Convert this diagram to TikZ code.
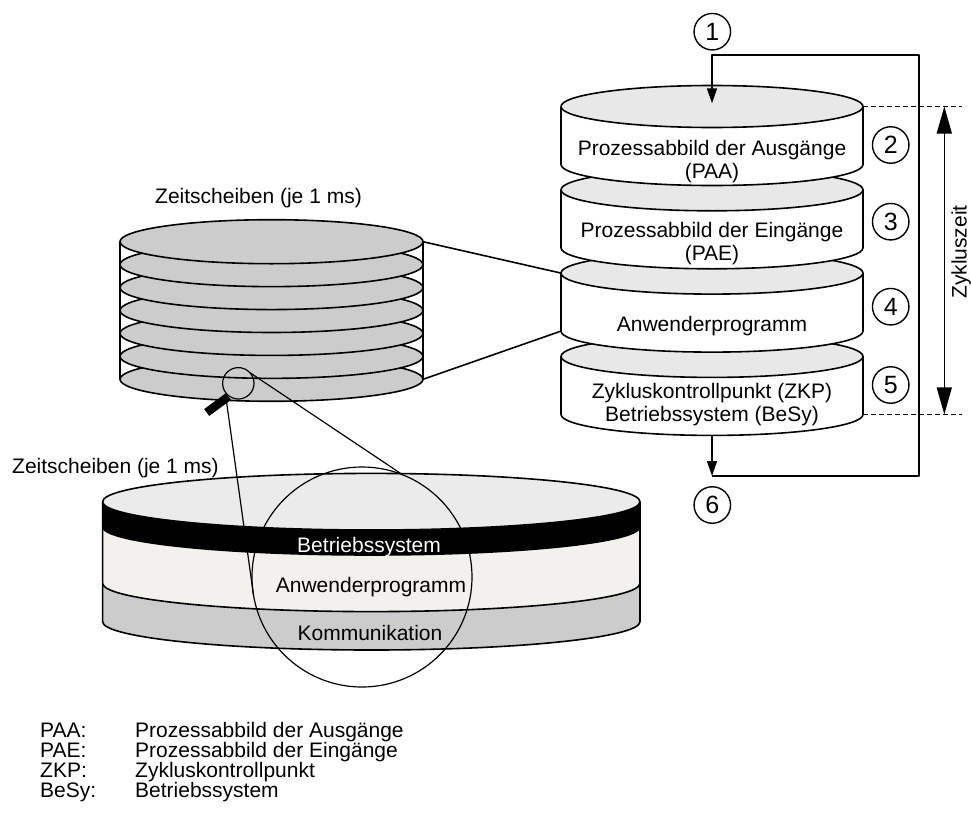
\documentclass[tikz,border=0pt]{standalone}
\usepackage{fontspec}
\setmainfont{Liberation Sans}
\usetikzlibrary{arrows.meta}
\definecolor{topgrey}{HTML}{E8E8E8}
\definecolor{slicegrey}{HTML}{CCCCCC}
\definecolor{discgrey}{HTML}{EBEBEB}
\definecolor{anwcol}{HTML}{F2F1EE}
\definecolor{komcol}{HTML}{CCCCCC}
\newcommand\fsz{\fontsize{21}{24}\selectfont}
\newcommand\fnum{\fontsize{25}{28}\selectfont}
\begin{document}
\begin{tikzpicture}[x=1pt,y=-1pt,line join=round,
  every node/.style={font=\fsz, inner sep=0pt},
  outl/.style={line width=1.6pt},
  thinl/.style={line width=1.2pt},
  numc/.style={circle, draw, line width=1.4pt, minimum size=36.5pt, inner sep=0pt, font=\fnum},
  looparrow/.style={line width=1.5pt, -{Triangle[length=15pt,width=10pt]}},
  dimarrow/.style={line width=1.5pt, {Triangle[length=27pt,width=15pt]}-{Triangle[length=27pt,width=15pt]}},
  dimline/.style={line width=1.3pt, dash pattern=on 5pt off 3pt},
  txt/.style={anchor=base},
  txtw/.style={anchor=base west}
]
\useasboundingbox (0,0) rectangle (971,816);

% ---------- connectors from time-slice stack to Anwenderprogramm ----------
\coordinate (lsTR) at (423,241.7);
\coordinate (lsBR) at (423,379.3);
\coordinate (c3TL) at (561,273.1);
\coordinate (c3BL) at (561,331.1);
\draw[outl] (lsTR) -- (c3TL);
\draw[outl] (lsBR) -- (c3BL);

% ---------- right cylinder stack ----------
\foreach \yt in {356.4,273.1,189.8,106.5}{
  \pgfmathsetmacro\yb{\yt+58}
  \fill[white] (561,\yt) -- (561,\yb) arc[start angle=180,end angle=0,x radius=151,y radius=21] -- (863,\yt) -- cycle;
  \draw[outl] (561,\yt) -- (561,\yb) arc[start angle=180,end angle=0,x radius=151,y radius=21] -- (863,\yt);
  \draw[outl,fill=topgrey] (712,\yt) ellipse [x radius=151, y radius=21];
}
\node[txt] (paa1) at (712,155) {Prozessabbild der Ausgänge};
\node[txt] (paa2) at (712,178.5) {(PAA)};
\node[txt] (pae1) at (712,237) {Prozessabbild der Eingänge};
\node[txt] (pae2) at (712,260.5) {(PAE)};
\node[txt] (anw) at (712,331) {Anwenderprogramm};
\node[txt] (zkp1) at (712,398) {Zykluskontrollpunkt (ZKP)};
\node[txt] (zkp2) at (712,421.5) {Betriebssystem (BeSy)};

% ---------- numbers ----------
\node[numc] (n1) at (712.3,31.7) {1};
\node[numc] (n2) at (890.7,145) {2};
\node[numc] (n3) at (890.7,221.7) {3};
\node[numc] (n4) at (890.7,306.7) {4};
\node[numc] (n5) at (890.7,385) {5};
\node[numc] (n6) at (712.3,505) {6};

% ---------- cycle loop ----------
\coordinate (c4B) at (712,435.4);
\coordinate (loopBL) at (712,476);
\coordinate (loopR) at (919,55);
\coordinate (c1T) at (712,103.3);
\draw[looparrow] (c4B) -- (loopBL);
\draw[looparrow] (loopBL) -| (loopR) -| (c1T);

% ---------- Zykluszeit dimension ----------
\coordinate (c1R) at (863,106.5);
\coordinate (dTe) at (962,106.5);
\coordinate (c4R) at (863,414.4);
\coordinate (dBe) at (962,414.4);
\coordinate (dT) at (944.3,106.5);
\coordinate (dB) at (944.3,414.4);
\draw[dimline] (c1R) -- (dTe);
\draw[dimline] (c4R) -- (dBe);
\draw[dimarrow] (dT) -- (dB);
\node[rotate=90,anchor=base] (zz) at (966.5,252) {Zykluszeit};

% ---------- time-slice stack (left) ----------
\foreach \i in {6,5,4,3,2,1,0}{
  \pgfmathsetmacro\yc{241.7+22.93*\i}
  \draw[outl,fill=slicegrey] (271.5,\yc) ellipse [x radius=151.5, y radius=22];
}
\draw[outl] (120,241.7) -- (120,379.3);
\draw[outl] (423,241.7) -- (423,379.3);
\node[txt] (zs1) at (258.5,203) {Zeitscheiben (je 1 ms)};

% ---------- big disc ----------
\foreach \ya/\yb/\col in {583.3/621.7/komcol, 526.7/583.3/anwcol, 501.7/526.7/black}{
  \fill[\col] (102.6,\ya) -- (102.6,\yb) arc[start angle=180,end angle=0,x radius=268.7,y radius=28.3] -- (640,\ya) -- cycle;
  \draw[outl] (102.6,\ya) -- (102.6,\yb) arc[start angle=180,end angle=0,x radius=268.7,y radius=28.3] -- (640,\ya);
}
\draw[outl,fill=discgrey] (371.3,501.7) ellipse [x radius=268.7, y radius=28.3];
\node[txt,text=white] (bs) at (369,552.5) {Betriebssystem};
\node[txt] (ap) at (371,592.5) {Anwenderprogramm};
\node[txt] (ko) at (370,640.5) {Kommunikation};
\node[txtw] (zs2) at (12,473) {Zeitscheiben (je 1 ms)};

% ---------- magnifier ----------
\coordinate (mag) at (238.3,383.3);
\coordinate (bc) at (362,577);
\draw[thinl] (mag) circle [radius=15.7];
\draw[line width=8.5pt] (228.5,396.5) -- (206.7,412.5);
\draw[thinl] (bc) circle [radius=110];
\coordinate (magR) at (250,372.7);
\coordinate (bcT) at (403,475);
\coordinate (magL) at (226,398);
\coordinate (bcL) at (253.5,595);
\draw[thinl] (magR) -- (bcT);
\draw[thinl] (magL) -- (bcL);

% ---------- legend ----------
\node[txtw] (l1a) at (40,737) {PAA:};
\node[txtw] (l1b) at (135,737) {Prozessabbild der Ausgänge};
\node[txtw] (l2a) at (40,757) {PAE:};
\node[txtw] (l2b) at (135,757) {Prozessabbild der Eingänge};
\node[txtw] (l3a) at (40,777) {ZKP:};
\node[txtw] (l3b) at (135,777) {Zykluskontrollpunkt};
\node[txtw] (l4a) at (40,797) {BeSy:};
\node[txtw] (l4b) at (135,797) {Betriebssystem};
\end{tikzpicture}
\end{document}
